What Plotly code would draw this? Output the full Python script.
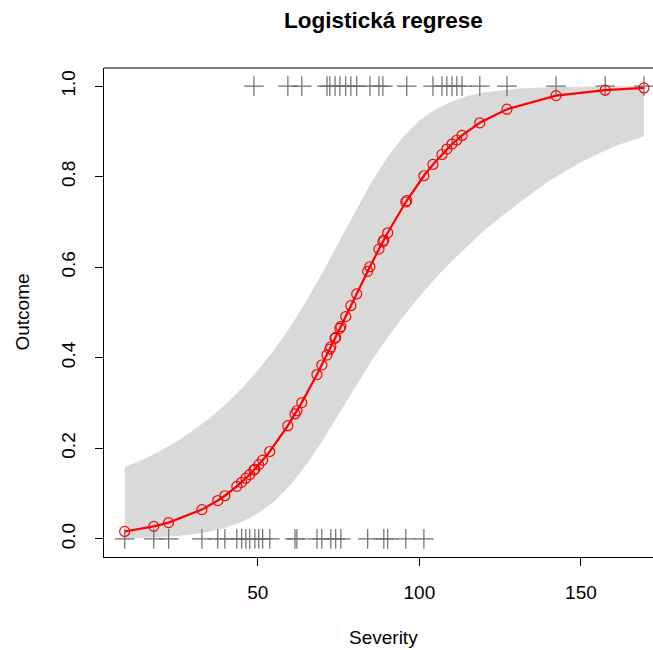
import plotly.graph_objects as go

# Observed data: severity score, binary outcome and fitted probability
severity = [8.8, 17.8, 22.4, 32.7, 37.6, 39.8, 43.5, 45.0, 46.3, 47.5,
            48.8, 49.1, 50.3, 51.5, 53.7, 59.3, 61.5, 62.1, 63.6, 68.3,
            69.8, 71.4, 72.3, 72.6, 73.9, 74.1, 75.4, 75.7, 77.2, 78.8,
            80.6, 84.0, 84.7, 87.5, 88.7, 89.0, 90.2, 95.8, 96.1, 101.4,
            104.2, 107.0, 108.5, 110.1, 111.6, 113.2, 118.7, 127.1, 142.3, 157.5,
            169.5]
outcome = [0, 0, 0, 0, 0, 0, 0, 0, 0, 0,
           1, 0, 0, 0, 0, 1, 0, 0, 1, 0,
           0, 1, 1, 0, 1, 0, 1, 0, 1, 1,
           1, 0, 1, 1, 1, 0, 0, 0, 1, 0,
           1, 1, 1, 1, 1, 1, 1, 1, 1, 1,
           1]
fitted = [0.0164, 0.0277, 0.0360, 0.0647, 0.0846, 0.0953, 0.116, 0.125, 0.134, 0.142,
          0.152, 0.154, 0.164, 0.174, 0.193, 0.250, 0.276, 0.283, 0.301, 0.363,
          0.384, 0.406, 0.419, 0.424, 0.443, 0.445, 0.465, 0.469, 0.491, 0.515,
          0.541, 0.591, 0.601, 0.640, 0.656, 0.660, 0.676, 0.744, 0.747, 0.802,
          0.827, 0.849, 0.861, 0.872, 0.881, 0.891, 0.919, 0.949, 0.979, 0.991,
          0.996]

# 95% confidence band of the fitted curve
band_x = [8.8, 15, 20, 25, 30, 35, 40, 45, 50, 55, 60, 65, 70, 75, 80, 85, 90,
          95, 100, 105, 110, 115, 120, 130, 140, 150, 160, 169.5]
band_lower = [0.0015, 0.0026, 0.0041, 0.0065, 0.0101, 0.0158, 0.0244, 0.0372,
              0.0559, 0.0825, 0.118, 0.164, 0.217, 0.276, 0.334, 0.391, 0.443,
              0.491, 0.535, 0.576, 0.613, 0.648, 0.681, 0.738, 0.790, 0.832,
              0.866, 0.889]
band_upper = [0.159, 0.177, 0.195, 0.215, 0.240, 0.266, 0.297, 0.332, 0.372,
              0.417, 0.468, 0.525, 0.588, 0.653, 0.721, 0.786, 0.842, 0.888,
              0.924, 0.949, 0.966, 0.978, 0.986, 0.994, 0.9977, 0.9991, 0.9996,
              0.9999]

x_ticks = [50, 100, 150]
y_ticks = [0.0, 0.2, 0.4, 0.6, 0.8, 1.0]
y_tick_labels = ["0.0", "0.2", "0.4", "0.6", "0.8", "1.0"]

FONT = "Liberation Sans, Arial, Helvetica, sans-serif"

fig = go.Figure()

fig.add_trace(go.Scatter(
    x=band_x + band_x[::-1],
    y=band_upper + band_lower[::-1],
    fill="toself", fillcolor="#d9d9d9",
    line=dict(width=0), mode="lines", hoverinfo="skip", showlegend=False,
))

fig.add_trace(go.Scatter(
    x=severity, y=outcome, mode="markers",
    marker=dict(symbol="cross-thin-open", size=14, color="#6e6e6e",
                line=dict(color="#6e6e6e", width=1.2)),
    showlegend=False,
))

fig.add_trace(go.Scatter(
    x=severity, y=fitted, mode="lines+markers",
    line=dict(color="#ff0000", width=2.2),
    marker=dict(symbol="circle-open", size=10, color="#ff0000",
                line=dict(color="#ff0000", width=1.2)),
    showlegend=False,
))

# top edge of the plot frame
fig.add_shape(type="line", xref="paper", yref="paper", x0=0, x1=1, y0=1, y1=1,
              line=dict(color="black", width=1))

fig.add_annotation(text="<b>Logistická regrese</b>", xref="paper", yref="paper",
                   x=0.51, y=1, yshift=48, yanchor="middle", showarrow=False,
                   font=dict(family=FONT, size=22.5, color="black"))
fig.add_annotation(text="Severity", xref="paper", yref="paper",
                   x=0.51, y=0, yshift=-80, yanchor="middle", showarrow=False,
                   font=dict(family=FONT, size=19, color="black"))
fig.add_annotation(text="Outcome", xref="paper", yref="paper",
                   x=0, xshift=-82, xanchor="center", y=0.5, yanchor="middle",
                   textangle=-90, showarrow=False,
                   font=dict(family=FONT, size=19, color="black"))

fig.update_layout(
    width=653, height=650,
    margin=dict(l=104, r=0, t=68, b=93),
    plot_bgcolor="white", paper_bgcolor="white",
    font=dict(family=FONT, size=19, color="black"),
    xaxis=dict(range=[2.4, 172.3], tickvals=x_ticks, ticks="outside",
               ticklen=8, tickcolor="black", showgrid=False, zeroline=False,
               showline=True, linecolor="black", linewidth=1,
               ticklabelstandoff=10, tickfont=dict(size=19)),
    yaxis=dict(range=[-0.04, 1.04], tickvals=y_ticks, ticktext=y_tick_labels,
               ticks="outside", ticklen=8, tickcolor="black", tickangle=-90,
               showgrid=False, zeroline=False, showline=True,
               linecolor="black", linewidth=1, ticklabelstandoff=12,
               tickfont=dict(size=19)),
)

fig.write_html("out.html")
